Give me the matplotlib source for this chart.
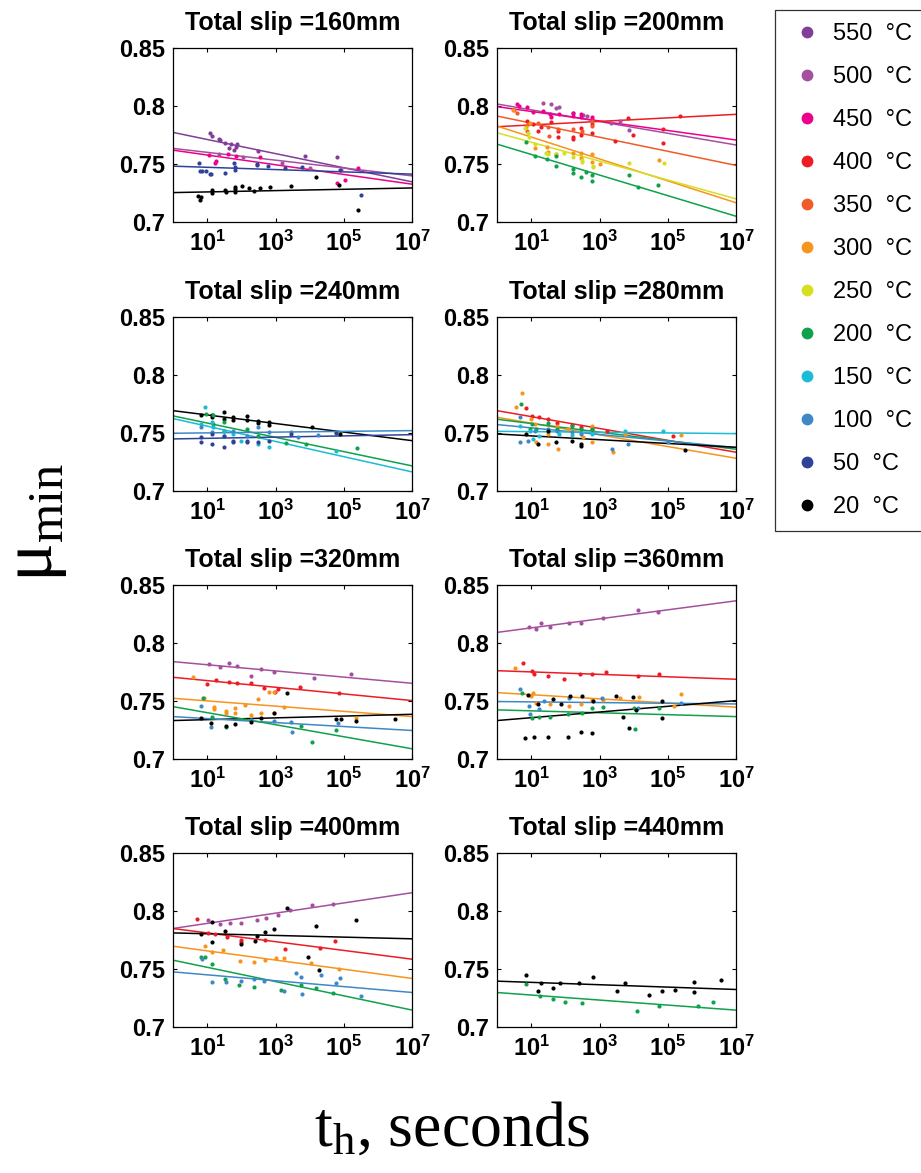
import matplotlib.pyplot as plt
from matplotlib.lines import Line2D
from matplotlib.ticker import NullLocator
import numpy as np

plt.rcParams['font.family'] = ['Liberation Sans', 'DejaVu Sans']
plt.rcParams['mathtext.fontset'] = 'custom'
plt.rcParams['mathtext.rm'] = 'Liberation Serif'
plt.rcParams['mathtext.bf'] = 'Liberation Sans:bold'

# temperature series and their colours
temps = [550, 500, 450, 400, 350, 300, 250, 200, 150, 100, 50, 20]
temp_colors = ['#7f3f98', '#a5509f', '#ec008c', '#ed1c24', '#f15a29', '#f7941d',
               '#d7df23', '#0fa14b', '#1cbcd5', '#3f88c7', '#2e4397', '#000000']
color_of = dict(zip(temps, temp_colors))

slips = [160, 200, 240, 280, 320, 360, 400, 440]

# measured points: temp -> (log10 hold time [s], mu_min)
pts_160 = {
    550: ([1.07, 1.15, 1.34, 1.38, 1.51, 1.64, 1.71, 1.77, 1.83, 1.88, 2.49, 3.87, 4.80],
          [0.7765, 0.7741, 0.7713, 0.7707, 0.7678, 0.7635, 0.7672, 0.7620, 0.7649, 0.7672, 0.7614, 0.7568, 0.7557]),
    500: ([1.35, 2.05, 3.20, 4.01, 4.91],
          [0.7591, 0.7563, 0.7511, 0.7467, 0.7447]),
    450: ([1.05, 1.22, 1.27, 1.61, 1.83, 2.53, 4.80, 5.02, 5.41],
          [0.7577, 0.7511, 0.7525, 0.7591, 0.7568, 0.7562, 0.7340, 0.7366, 0.7470]),
    50: ([0.76, 0.80, 0.86, 0.96, 1.09, 1.12, 1.52, 1.79, 1.80, 1.80, 2.46, 2.47, 2.78, 3.27, 3.78, 4.89, 5.49],
         [0.7511, 0.7442, 0.7442, 0.7442, 0.7418, 0.7413, 0.7424, 0.7511, 0.7476, 0.7447, 0.7499, 0.7493,
          0.7484, 0.7470, 0.7476, 0.7447, 0.7237]),
    20: ([0.73, 0.78, 0.81, 1.14, 1.15, 1.52, 1.54, 1.80, 1.80, 1.80, 2.03, 2.22, 2.36, 2.55, 2.83, 3.44,
          4.17, 4.85, 5.41],
         [0.7222, 0.7193, 0.7216, 0.7274, 0.7251, 0.7280, 0.7260, 0.7303, 0.7283, 0.7257, 0.7314, 0.7297,
          0.7268, 0.7297, 0.7303, 0.7311, 0.7389, 0.7317, 0.7101]),
}
pts_200 = {
    500: ([1.35, 1.57, 1.74, 1.82, 2.23, 2.52, 2.62, 3.33, 3.60, 3.87],
          [0.8024, 0.8018, 0.7981, 0.7990, 0.7944, 0.7924, 0.7915, 0.7858, 0.7872, 0.7794]),
    450: ([0.60, 0.64, 0.89, 1.06, 1.35, 1.56, 1.59, 1.82, 2.21, 2.23, 2.47, 2.47, 2.77, 2.77],
          [0.8016, 0.8002, 0.7990, 0.7953, 0.7959, 0.7930, 0.7910, 0.7930, 0.7938, 0.7915, 0.7930, 0.7910,
           0.7904, 0.7889]),
    400: ([0.88, 1.06, 1.20, 1.28, 1.59, 1.79, 1.79, 2.21, 2.21, 2.47, 2.47, 2.77, 2.77, 3.45, 3.82, 3.99,
           4.85, 4.85, 5.36],
          [0.7875, 0.7846, 0.7786, 0.7817, 0.7866, 0.7731, 0.7786, 0.7737, 0.7714, 0.7814, 0.7751, 0.7771,
           0.7846, 0.7699, 0.7895, 0.7751, 0.7806, 0.7685, 0.7915]),
    350: ([0.49, 0.60, 0.91, 0.89, 1.20, 1.50, 1.52, 1.79, 2.21, 2.49, 2.77, 2.77],
          [0.7967, 0.7938, 0.7846, 0.7789, 0.7852, 0.7817, 0.7743, 0.7800, 0.7800, 0.7789, 0.7829, 0.7875]),
    300: ([0.47, 0.84, 0.96, 1.10, 1.47, 1.50, 1.72, 2.21, 2.47, 2.47, 2.77, 2.77, 3.01, 4.75],
          [0.7967, 0.7823, 0.7852, 0.7642, 0.7650, 0.7607, 0.7587, 0.7593, 0.7593, 0.7552, 0.7587, 0.7515,
           0.7498, 0.7535]),
    250: ([0.81, 0.91, 0.94, 1.10, 1.43, 1.48, 1.74, 1.96, 2.23, 2.50, 2.50, 2.82, 2.82, 3.87, 4.89],
          [0.7809, 0.7766, 0.7731, 0.7673, 0.7599, 0.7587, 0.7587, 0.7593, 0.7558, 0.7535, 0.7521, 0.7486,
           0.7478, 0.7506, 0.7512]),
    200: ([0.86, 1.10, 1.46, 1.74, 1.74, 2.21, 2.21, 2.47, 2.59, 2.77, 2.77, 3.87, 4.12, 4.72],
          [0.7694, 0.7570, 0.7541, 0.7570, 0.7480, 0.7454, 0.7420, 0.7391, 0.7434, 0.7406, 0.7351, 0.7408,
           0.7299, 0.7322]),
}
pts_240 = {
    20: ([0.83, 1.15, 1.15, 1.48, 1.48, 1.75, 1.75, 2.17, 2.17, 2.49, 2.49, 2.81, 2.81, 4.06, 4.87],
         [0.7659, 0.7659, 0.7636, 0.7679, 0.7622, 0.7642, 0.7613, 0.7650, 0.7613, 0.7607, 0.7584, 0.7593,
          0.7573, 0.7550, 0.7492]),
    200: ([0.96, 1.17, 1.17, 1.48, 1.48, 2.17, 2.49, 3.31, 3.90, 5.38],
          [0.7665, 0.7659, 0.7578, 0.7593, 0.7521, 0.7535, 0.7478, 0.7411, 0.7406, 0.7371]),
    150: ([0.95, 0.83, 1.15, 1.17, 1.48, 1.75, 2.00, 2.49, 2.81, 4.76],
          [0.7722, 0.7578, 0.7593, 0.7550, 0.7521, 0.7492, 0.7434, 0.7406, 0.7383, 0.7342]),
    100: ([0.83, 1.15, 1.48, 1.75, 2.17, 2.49, 2.81, 3.44, 3.65, 4.24, 4.76],
          [0.7550, 0.7506, 0.7478, 0.7521, 0.7478, 0.7550, 0.7506, 0.7506, 0.7469, 0.7486, 0.7506]),
    50: ([0.83, 0.83, 1.15, 1.15, 1.48, 1.48, 1.75, 1.75, 2.17, 2.17, 2.49, 2.81, 3.44, 4.76],
         [0.7463, 0.7420, 0.7492, 0.7406, 0.7478, 0.7377, 0.7434, 0.7420, 0.7434, 0.7420, 0.7420, 0.7434,
          0.7492, 0.7498]),
}
pts_280 = {
    400: ([0.84, 1.01, 1.23, 1.50, 1.76, 2.18, 2.47, 2.77, 3.23, 5.14],
          [0.7717, 0.7650, 0.7636, 0.7622, 0.7584, 0.7573, 0.7550, 0.7535, 0.7515, 0.7478]),
    300: ([0.57, 0.73, 0.99, 1.10, 1.15, 1.50, 1.50, 1.79, 1.76, 2.08, 2.52, 2.77, 2.77, 3.40, 3.74, 5.39],
          [0.7722, 0.7843, 0.7622, 0.7578, 0.7420, 0.7406, 0.7492, 0.7362, 0.7564, 0.7535, 0.7463, 0.7564,
           0.7420, 0.7334, 0.7492, 0.7486]),
    200: ([0.69, 0.96, 1.01, 1.15, 1.50, 1.76, 2.18, 2.47, 2.77],
          [0.7751, 0.7535, 0.7578, 0.7535, 0.7587, 0.7535, 0.7564, 0.7535, 0.7535]),
    100: ([0.68, 0.66, 0.91, 1.10, 1.50, 1.76, 2.18, 2.47, 3.35, 3.84, 5.01],
          [0.7642, 0.7420, 0.7434, 0.7521, 0.7535, 0.7521, 0.7506, 0.7492, 0.7362, 0.7406, 0.7420]),
    150: ([0.66, 0.96, 1.04, 1.23, 1.82, 2.18, 2.77, 3.74, 4.84],
          [0.7564, 0.7521, 0.7449, 0.7478, 0.7492, 0.7486, 0.7492, 0.7521, 0.7521]),
    20: ([0.84, 1.20, 1.50, 1.72, 2.18, 2.47, 2.47, 5.50],
         [0.7492, 0.7406, 0.7521, 0.7420, 0.7434, 0.7406, 0.7391, 0.7357]),
}
pts_320 = {
    500: ([1.05, 1.38, 1.64, 1.87, 2.29, 2.58, 2.95, 4.11, 5.19],
          [0.7820, 0.7797, 0.7831, 0.7803, 0.7719, 0.7780, 0.7754, 0.7702, 0.7734]),
    400: ([1.00, 1.27, 1.64, 1.87, 2.29, 2.65, 2.97, 3.07, 3.70, 4.85],
          [0.7648, 0.7682, 0.7668, 0.7653, 0.7653, 0.7610, 0.7582, 0.7602, 0.7619, 0.7567]),
    300: ([0.60, 0.91, 1.20, 1.20, 1.56, 1.56, 1.82, 1.82, 2.10, 2.29, 2.49, 2.58, 2.81, 2.94, 2.95, 3.25, 5.36],
          [0.7705, 0.7524, 0.7452, 0.7429, 0.7418, 0.7401, 0.7438, 0.7401, 0.7467, 0.7381, 0.7516, 0.7395,
           0.7582, 0.7582, 0.7395, 0.7452, 0.7352]),
    200: ([0.88, 1.15, 1.54, 2.29, 3.73, 4.07, 4.78],
          [0.7530, 0.7366, 0.7275, 0.7338, 0.7289, 0.7151, 0.7252]),
    100: ([0.81, 1.10, 2.29, 2.95, 3.44, 3.49, 4.81],
          [0.7461, 0.7280, 0.7338, 0.7332, 0.7318, 0.7237, 0.7315]),
    20: ([0.83, 1.10, 1.54, 1.80, 2.29, 2.58, 2.95, 3.34, 4.78, 4.92, 5.36, 6.48],
         [0.7352, 0.7315, 0.7289, 0.7300, 0.7318, 0.7358, 0.7395, 0.7567, 0.7343, 0.7343, 0.7329, 0.7343]),
}
pts_360 = {
    500: ([0.94, 1.13, 1.30, 1.56, 2.10, 2.47, 3.09, 4.12, 4.72],
          [0.8136, 0.8121, 0.8170, 0.8141, 0.8170, 0.8176, 0.8213, 0.8285, 0.8268]),
    400: ([0.76, 1.01, 1.08, 1.50, 1.96, 2.42, 2.79, 3.19, 4.12, 4.75],
          [0.7831, 0.7760, 0.7734, 0.7717, 0.7688, 0.7734, 0.7734, 0.7751, 0.7719, 0.7731]),
    300: ([0.52, 1.06, 0.99, 1.15, 1.56, 2.10, 2.47, 2.79, 3.09, 3.60, 4.16, 5.18, 5.39],
          [0.7783, 0.7567, 0.7544, 0.7487, 0.7475, 0.7461, 0.7475, 0.7510, 0.7510, 0.7524, 0.7539, 0.7458,
           0.7562]),
    100: ([0.66, 0.93, 0.96, 1.22, 1.37, 2.10, 3.08, 4.13, 5.39],
          [0.7602, 0.7461, 0.7389, 0.7429, 0.7501, 0.7524, 0.7530, 0.7438, 0.7481]),
    200: ([0.74, 1.03, 1.22, 1.56, 2.08, 2.49, 2.77, 3.09, 4.02, 4.04, 4.75],
          [0.7573, 0.7352, 0.7361, 0.7361, 0.7386, 0.7401, 0.7441, 0.7447, 0.7438, 0.7257, 0.7444]),
    20: ([0.91, 1.20, 1.64, 1.87, 2.13, 2.49, 2.82, 3.48, 3.68, 3.97, 4.07, 4.82, 4.82,
          0.83, 1.09, 1.50, 2.08, 2.47, 2.79, 3.87],
         [0.7553, 0.7475, 0.7516, 0.7475, 0.7547, 0.7544, 0.7504, 0.7544, 0.7366, 0.7533, 0.7424, 0.7504,
          0.7352, 0.7180, 0.7188, 0.7194, 0.7191, 0.7231, 0.7223, 0.7272]),
}
pts_400 = {
    500: ([1.02, 1.38, 1.66, 2.00, 2.46, 2.71, 3.07, 3.41, 4.06, 4.68],
          [0.7920, 0.7892, 0.7900, 0.7900, 0.7926, 0.7940, 0.7963, 0.8012, 0.8055, 0.8058]),
    400: ([0.70, 1.02, 1.22, 1.58, 1.98, 1.98, 2.70, 3.28, 4.29, 4.73],
          [0.7929, 0.7814, 0.7800, 0.7777, 0.7748, 0.7730, 0.7748, 0.7671, 0.7682, 0.7742]),
    20: ([0.83, 1.14, 1.14, 1.53, 1.98, 2.39, 2.46, 2.70, 2.94, 3.33, 4.17, 3.95, 4.26, 5.34],
         [0.7805, 0.7906, 0.7734, 0.7826, 0.7719, 0.7739, 0.7785, 0.7820, 0.7843, 0.8029, 0.7871, 0.7605,
          0.7490, 0.7920]),
    300: ([0.93, 1.14, 1.46, 1.95, 2.36, 2.68, 3.00, 3.25, 4.04, 4.85],
          [0.7696, 0.7648, 0.7662, 0.7570, 0.7562, 0.7576, 0.7596, 0.7596, 0.7553, 0.7498]),
    200: ([0.83, 0.95, 1.14, 1.51, 1.93, 2.36, 3.17, 3.75, 4.17, 4.68],
          [0.7605, 0.7605, 0.7541, 0.7412, 0.7361, 0.7346, 0.7318, 0.7361, 0.7338, 0.7295]),
    100: ([0.85, 1.14, 1.54, 1.98, 2.36, 2.65, 3.24, 3.61, 3.75, 3.78, 4.34, 4.78, 4.89, 5.51],
          [0.7582, 0.7389, 0.7389, 0.7395, 0.7412, 0.7398, 0.7312, 0.7461, 0.7427, 0.7283, 0.7452, 0.7375,
           0.7424, 0.7266]),
}
pts_440 = {
    20: ([0.84, 1.20, 1.28, 1.64, 1.84, 2.40, 2.80, 3.50, 3.74, 4.43, 4.82, 5.21, 5.75, 5.77, 6.56],
         [0.7452, 0.7309, 0.7375, 0.7332, 0.7381, 0.7375, 0.7432, 0.7309, 0.7375, 0.7275, 0.7312, 0.7318,
          0.7389, 0.7300, 0.7404]),
    200: ([0.86, 1.25, 1.64, 1.98, 2.49, 4.09, 4.74, 5.89, 6.31],
          [0.7369, 0.7269, 0.7237, 0.7217, 0.7203, 0.7137, 0.7183, 0.7180, 0.7211]),
}

# log-linear fits: temp -> (mu at 1 s, mu at 1e7 s)
fit_160 = {550: (0.7773, 0.7346), 500: (0.7635, 0.7398), 450: (0.7620, 0.7326),
           50: (0.7482, 0.7413), 20: (0.7254, 0.7294)}
fit_200 = {500: (0.8018, 0.7664), 450: (0.7995, 0.7707), 400: (0.7822, 0.7929), 350: (0.7914, 0.7488),
           300: (0.7828, 0.7165), 250: (0.7770, 0.7199), 200: (0.7672, 0.7049)}
fit_240 = {20: (0.7693, 0.7434), 200: (0.7648, 0.7216), 150: (0.7625, 0.7164),
           100: (0.7498, 0.7521), 50: (0.7449, 0.7486)}
fit_280 = {400: (0.7693, 0.7334), 300: (0.7636, 0.7282), 200: (0.7619, 0.7360),
           100: (0.7573, 0.7374), 150: (0.7515, 0.7495), 20: (0.7492, 0.7377)}
fit_320 = {500: (0.7840, 0.7653), 400: (0.7705, 0.7504), 300: (0.7524, 0.7366),
           20: (0.7332, 0.7386), 100: (0.7366, 0.7246), 200: (0.7452, 0.7088)}
fit_360 = {500: (0.8092, 0.8365), 400: (0.7762, 0.7688), 300: (0.7573, 0.7447),
           100: (0.7496, 0.7475), 200: (0.7424, 0.7366), 20: (0.7332, 0.7504)}
fit_400 = {500: (0.7849, 0.8158), 400: (0.7849, 0.7584), 20: (0.7811, 0.7760),
           300: (0.7696, 0.7418), 200: (0.7576, 0.7145), 100: (0.7475, 0.7297)}
fit_440 = {20: (0.7395, 0.7323), 200: (0.7297, 0.7145)}

panel_points = [pts_160, pts_200, pts_240, pts_280, pts_320, pts_360, pts_400, pts_440]
panel_fits = [fit_160, fit_200, fit_240, fit_280, fit_320, fit_360, fit_400, fit_440]

fig = plt.figure(figsize=(9.21, 11.73), dpi=100)

col_left = [0.1878, 0.5396]
row_bottom = [0.8107, 0.5814, 0.3529, 0.1245]
ax_w, ax_h = 0.2600, 0.1483
t_ends = np.array([1.0, 1e7])

for i, slip in enumerate(slips):
    ax = fig.add_axes([col_left[i % 2], row_bottom[i // 2], ax_w, ax_h])
    for temp, (mu0, mu7) in panel_fits[i].items():
        ax.plot(t_ends, [mu0, mu7], color=color_of[temp], lw=1.1)
    for temp, (logt, mu) in panel_points[i].items():
        ax.plot(10 ** np.array(logt), mu, 'o', ms=3, color=color_of[temp], mec='none')

    ax.set_xscale('log')
    ax.set_xlim(1, 1e7)
    ax.set_ylim(0.7, 0.85)
    ax.set_xticks([1e1, 1e3, 1e5, 1e7])
    ax.set_xticklabels([r'$\mathbf{10^{%d}}$' % k for k in (1, 3, 5, 7)])
    ax.xaxis.set_minor_locator(NullLocator())
    ax.set_yticks([0.7, 0.75, 0.8, 0.85])
    ax.set_yticklabels(['0.7', '0.75', '0.8', '0.85'], fontweight='bold')
    ax.tick_params(direction='in', top=True, right=True, length=3, width=0.8,
                   labelsize=17, pad=6)
    for s in ax.spines.values():
        s.set_linewidth(0.9)
    ax.set_title(f'Total slip ={slip}mm', fontsize=18, fontweight='bold', pad=13)

handles = [Line2D([], [], ls='none', marker='o', ms=8.5, color=c, mec='none') for c in temp_colors]
leg = fig.legend(handles, [f'{t}  °C' for t in temps], loc='upper left',
                 bbox_to_anchor=(775 / 921, 1 - 10 / 1173), borderaxespad=0,
                 fontsize=17, frameon=True, fancybox=False, edgecolor='black',
                 handlelength=1.61, handletextpad=0.3, labelspacing=0.89, borderpad=0.55)
leg.get_frame().set_linewidth(0.9)

fig.text(0.040, 0.555, r'μ$_{\mathrm{min}}$', rotation=90, ha='center', va='center',
         fontsize=52, family='Liberation Serif')
fig.text(0.491, 0.036, r'$\mathrm{t_h}$, seconds', ha='center', va='center',
         fontsize=46, family='Liberation Serif')

fig.savefig('out.png', dpi=100)
